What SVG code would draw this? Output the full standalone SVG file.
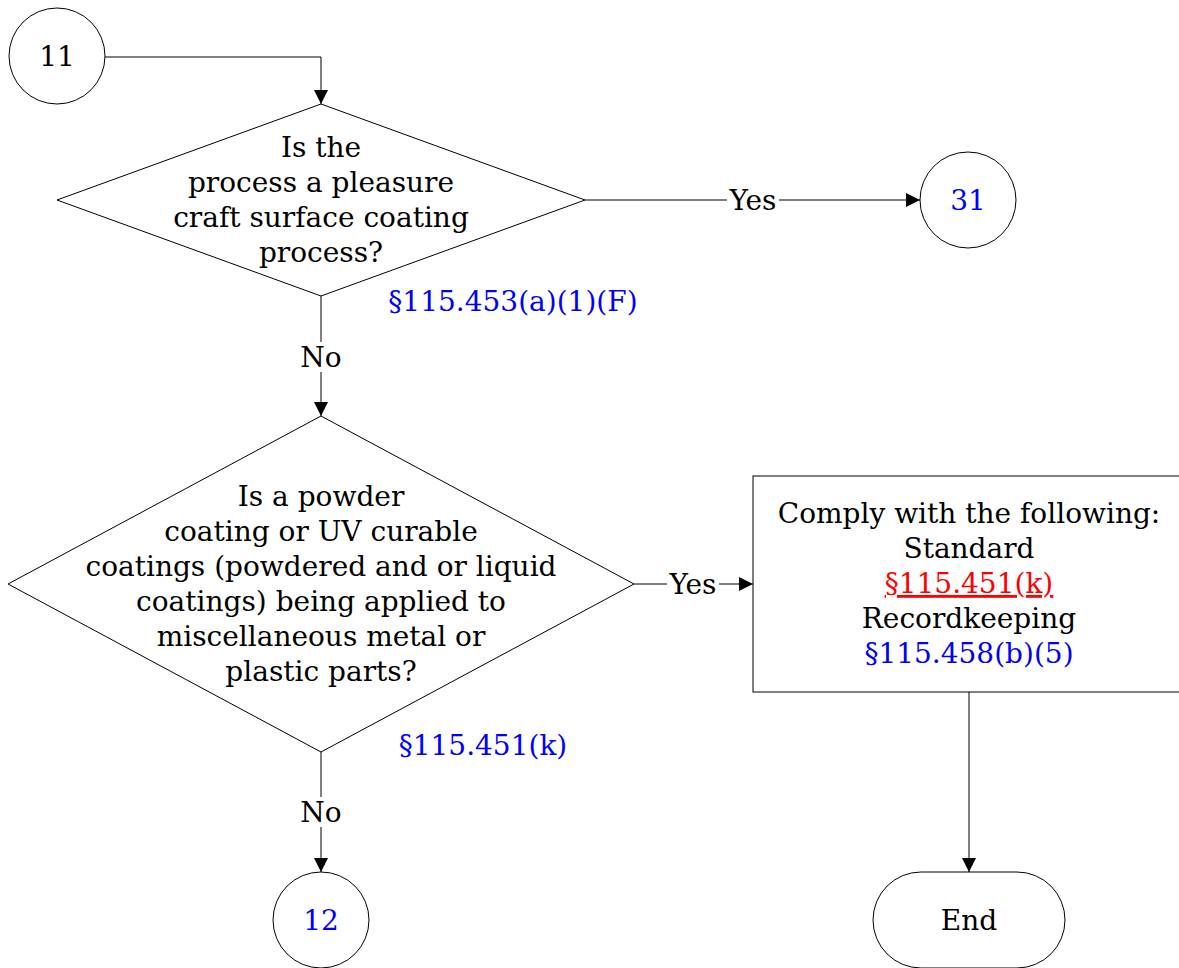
<svg xmlns="http://www.w3.org/2000/svg" width="1179" height="968" viewBox="0 0 1179 968">
<style>
.s{fill:#fff;stroke:#000;stroke-width:1}
.c{fill:none;stroke:#000;stroke-width:1}
text{font-family:"DejaVu Serif","Liberation Serif",serif;font-size:28px;text-anchor:middle;fill:#000}
.b{fill:#0000ff}
.r{fill:#ff0000;text-decoration:underline}
.lb{fill:#fff;stroke:none}
</style>
<defs>
<marker id="a" markerWidth="14" markerHeight="14" refX="14" refY="7" orient="auto" markerUnits="userSpaceOnUse"><path d="M0,0 L14,7 L0,14 Z" fill="#000"/></marker>
</defs>
<g id="connectors">
<path class="c" d="M105,57 H321 V104" marker-end="url(#a)"/>
<path class="c" d="M585,200 H920" marker-end="url(#a)"/>
<path class="c" d="M321,296 V416" marker-end="url(#a)"/>
<path class="c" d="M634,584 H753" marker-end="url(#a)"/>
<path class="c" d="M321,752 V872" marker-end="url(#a)"/>
<path class="c" d="M969,692 V872" marker-end="url(#a)"/>
<rect class="lb" x="727" y="186" width="52" height="28"/>
<text x="753" y="210">Yes</text>
<rect class="lb" x="301" y="342" width="40" height="30"/>
<text x="321" y="367">No</text>
<rect class="lb" x="667" y="570" width="52" height="28"/>
<text x="693" y="594">Yes</text>
<rect class="lb" x="301" y="797" width="40" height="30"/>
<text x="321" y="822">No</text>
</g>
<g id="n11">
<circle class="s" cx="57" cy="56" r="48"/>
<text x="57" y="66">11</text>
</g>
<g id="d1">
<polygon class="s" points="321,104 585,200 321,296 57,200"/>
<text x="321" y="157">Is the</text>
<text x="321" y="192">process a pleasure</text>
<text x="321" y="227">craft surface coating</text>
<text x="321" y="262">process?</text>
<text class="b" x="513" y="311">§115.453(a)(1)(F)</text>
</g>
<g id="n31">
<circle class="s" cx="968" cy="200" r="48"/>
<text class="b" x="968" y="210">31</text>
</g>
<g id="d2">
<polygon class="s" points="321,416 634,584 321,752 8,584"/>
<text x="321" y="506">Is a powder</text>
<text x="321" y="541">coating or UV curable</text>
<text x="321" y="576">coatings (powdered and or liquid</text>
<text x="321" y="611">coatings) being applied to</text>
<text x="321" y="646">miscellaneous metal or</text>
<text x="321" y="681">plastic parts?</text>
<text class="b" x="483" y="755">§115.451(k)</text>
</g>
<g id="box">
<rect class="s" x="753" y="476" width="432" height="216"/>
<text x="969" y="523">Comply with the following:</text>
<text x="969" y="558">Standard</text>
<text class="r" x="969" y="593">§115.451(k)</text>
<text x="969" y="628">Recordkeeping</text>
<text class="b" x="969" y="663">§115.458(b)(5)</text>
</g>
<g id="n12">
<circle class="s" cx="321" cy="920" r="48"/>
<text class="b" x="321" y="930">12</text>
</g>
<g id="end">
<rect class="s" x="873" y="872" width="192" height="96" rx="48" ry="48"/>
<text x="969" y="930">End</text>
</g>
</svg>
